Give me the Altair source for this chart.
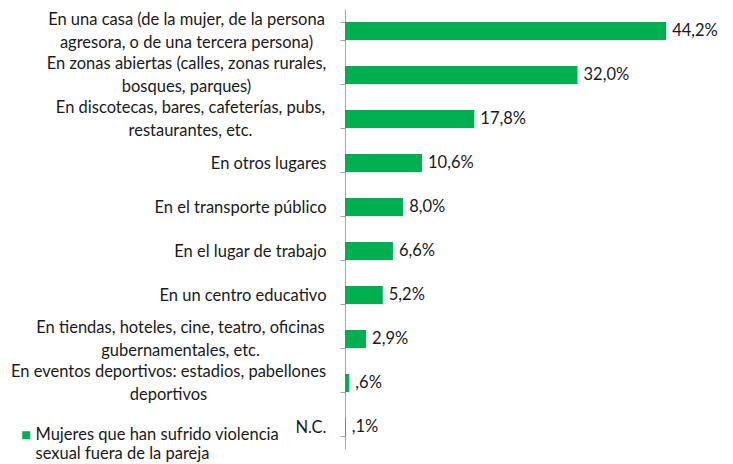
import altair as alt
import pandas as pd

categories = [
    "En una casa (de la mujer, de la persona\nagresora, o de una tercera persona)",
    "En zonas abiertas (calles, zonas rurales,\nbosques, parques)",
    "En discotecas, bares, cafeterías, pubs,\nrestaurantes, etc.",
    "En otros lugares",
    "En el transporte público",
    "En el lugar de trabajo",
    "En un centro educativo",
    "En tiendas, hoteles, cine, teatro, oficinas\ngubernamentales, etc.",
    "En eventos deportivos: estadios, pabellones\ndeportivos",
    "N.C.",
]
values = [44.2, 32.0, 17.8, 10.6, 8.0, 6.6, 5.2, 2.9, 0.6, 0.1]
value_labels = ["44,2%", "32,0%", "17,8%", "10,6%", "8,0%", "6,6%", "5,2%", "2,9%", ",6%", ",1%"]
series_name = "Mujeres que han sufrido violencia\nsexual fuera de la pareja"

# half widths (px) of the two-line label blocks, used to centre them
half_widths = {
    "En una casa": 140,
    "En zonas abiertas": 140,
    "En discotecas": 136,
    "En tiendas": 146,
    "En eventos": 158,
}

df = pd.DataFrame({
    "cat": categories,
    "val": values,
    "lab": value_labels,
    "serie": [series_name] * len(categories),
})

FONT = "Lato"
FS = 16.5
GREEN = "#00B050"
PAD = 14

multi_test = "indexof(datum.label, '\\n') >= 0"
pad_conditions = [
    {"test": f"indexof(datum.label, '{k}') == 0", "value": PAD + v}
    for k, v in half_widths.items()
]

y_enc = alt.Y(
    "cat:N",
    sort=categories,
    title=None,
    scale=alt.Scale(paddingInner=0.59, paddingOuter=0.295),
    axis=alt.Axis(
        labelExpr="split(datum.label, '\\n')",
        labelFont=FONT,
        labelFontSize=FS,
        labelColor="#1a1a1a",
        labelLimit=400,
        labelPadding={"condition": pad_conditions, "value": PAD},
        labelAlign={"condition": {"test": multi_test, "value": "center"}, "value": "right"},
        labelLineHeight=23,
        labelOffset={"condition": {"test": multi_test, "value": -11.5}, "value": 0},
        domainColor="#a6a6a6",
        tickColor="#a6a6a6",
        tickSize=5,
        tickBand="extent",
        domainWidth=1,
    ),
)
x_enc = alt.X(
    "val:Q",
    scale=alt.Scale(domain=[0, 52.3], nice=False),
    axis=None,
)

bars = alt.Chart(df).mark_bar(color=GREEN).encode(
    y=y_enc,
    x=x_enc,
    color=alt.Color(
        "serie:N",
        scale=alt.Scale(range=[GREEN]),
        legend=alt.Legend(
            title=None,
            orient="none",
            legendX=-327,
            legendY=418,
            symbolType="square",
            symbolSize=64,
            symbolStrokeWidth=0,
            labelFont=FONT,
            labelFontSize=FS,
            labelColor="#1a1a1a",
            labelLimit=400,
            labelExpr="split(datum.label, '\\n')",
            labelBaseline="middle",
            labelOffset=1,
        ),
    ),
)

texts = alt.Chart(df).mark_text(
    align="left", baseline="middle", dx=6, font=FONT, fontSize=FS, color="#1a1a1a"
).encode(
    y=alt.Y("cat:N", sort=categories),
    x="val:Q",
    text="lab:N",
)

chart = (
    alt.layer(bars, texts)
    .properties(
        width=380,
        height=440,
        autosize=alt.AutoSizeParams(type="none"),
        padding={"left": 337, "top": 1, "right": 0, "bottom": 30},
    )
    .configure_view(stroke=None)
)

chart.save("out.html", embed_options={"renderer": "svg", "actions": False})
